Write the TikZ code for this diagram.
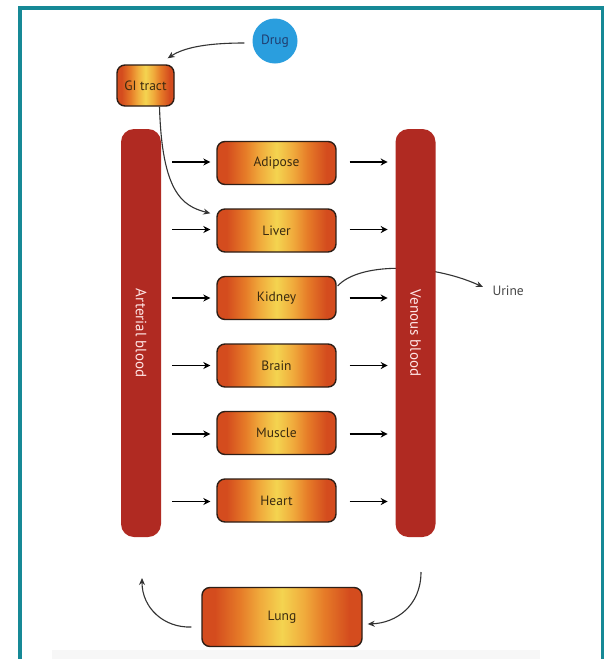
\documentclass[tikz,border=0pt]{standalone}
\usepackage{fontspec}
\setmainfont{PT Sans}
\usetikzlibrary{arrows.meta,calc}
\definecolor{frameteal}{RGB}{22,137,150}
\definecolor{bloodred}{RGB}{176,42,34}
\definecolor{organedge}{RGB}{212,76,30}
\definecolor{organmid}{RGB}{230,124,40}
\definecolor{organwarm}{RGB}{240,170,60}
\definecolor{organcore}{RGB}{244,212,80}
\definecolor{organline}{RGB}{45,30,22}
\definecolor{organtext}{RGB}{58,42,16}
\definecolor{drugblue}{RGB}{42,158,222}
\definecolor{drugtext}{RGB}{32,62,112}
\pgfdeclarehorizontalshading{organband}{100bp}{%
  color(0bp)=(organedge); color(29bp)=(organedge); color(37bp)=(organmid);
  color(43bp)=(organwarm); color(50bp)=(organcore); color(57bp)=(organwarm);
  color(63bp)=(organmid); color(71bp)=(organedge); color(100bp)=(organedge)}
\tikzset{
  organbox/.style={
    draw=organline,
    line width=1.4pt,
    rounded corners=8pt,
    minimum width=119pt,
    minimum height=43pt,
    shading=organband,
    text=organtext,
    font=\fontsize{13.5}{16}\selectfont
  },
  bloodbar/.style={
    fill=bloodred,
    rounded corners=13pt,
    rotate=-90,
    minimum width=408pt,
    minimum height=40pt,
    text=white!90!red,
    font=\fontsize{15}{18}\selectfont
  },
  flowarrow/.style={
    draw=black,
    line width=1.7pt,
    -{Stealth[length=7pt,width=7pt]}
  },
  bendarrow/.style={
    draw=black!80,
    line width=1.1pt,
    -{Stealth[length=7pt,width=6pt]}
  }
}

\begin{document}
\begin{tikzpicture}[x=1pt,y=-1pt]

  % Page area in pixels of the reference, y pointing down.
  \useasboundingbox (0,0) rectangle (609,659);
  \clip (0,0) rectangle (609,659);
  \fill[white] (0,0) rectangle (609,659);
  \fill[black!3] (52,650) rectangle (540,659);

  % Teal frame, open at the lower edge.
  \draw[frameteal,line width=3.5pt] (20,659) -- (20,8) -- (602.5,8) -- (602.5,659);

  % Dose and absorption.
  \node[circle,fill=drugblue,minimum size=45pt,inner sep=0pt,
    text=drugtext,font=\fontsize{13.5}{16}\selectfont] (drug) at (275,41) {Drug};
  \node[organbox,minimum width=57pt,minimum height=41pt] (gi) at (145.5,85.5) {GI tract};

  % Tissue compartments between arterial and venous blood.
  \node[organbox] (adipose) at (276.5,163) {Adipose};
  \node[organbox] (liver)   at (276.5,230.5) {Liver};
  \node[organbox] (kidney)  at (276.5,298) {Kidney};
  \node[organbox] (brain)   at (276.5,365.5) {Brain};
  \node[organbox] (muscle)  at (276.5,433) {Muscle};
  \node[organbox] (heart)   at (276.5,500.5) {Heart};
  \node[organbox,minimum width=160pt,minimum height=59pt] (lung) at (282,617) {Lung};

  \node[text=black!72,font=\fontsize{13.5}{16}\selectfont,anchor=west] (urine) at (489,291) {Urine};

  % Renal excretion passes behind the venous blood bar.
  \draw[bendarrow] ($(kidney.east)+(1,-12)$) .. controls (358,263) and (428,262) .. ($(urine.west)+(-6,-4)$);

  % Blood pools.
  \node[bloodbar] (arterial) at (141,333) {Arterial blood};
  \node[bloodbar] (venous)   at (415.5,333) {Venous blood};

  \draw[bendarrow] ($(drug.west)+(-8,2)$) .. controls +(-32,0) and +(18,-12) .. ($(gi.north east)+(-7,-6)$);
  \draw[bendarrow] ($(gi.south)+(14,0)$) .. controls (162,192) and (182,206) .. ($(liver.north west)+(-6,5)$);

  % Arterial supply to each tissue.
  \draw[flowarrow] ($(adipose.west)+(-44,-1)$) -- ($(adipose.west)+(-6,-1)$);
  \draw[flowarrow] ($(liver.west)+(-44,-1)$) -- ($(liver.west)+(-6,-1)$);
  \draw[flowarrow] ($(kidney.west)+(-44,0)$) -- ($(kidney.west)+(-6,0)$);
  \draw[flowarrow] ($(brain.west)+(-44,0)$) -- ($(brain.west)+(-6,0)$);
  \draw[flowarrow] ($(muscle.west)+(-44,1)$) -- ($(muscle.west)+(-6,1)$);
  \draw[flowarrow] ($(heart.west)+(-44,1)$) -- ($(heart.west)+(-6,1)$);

  % Venous return from each tissue.
  \draw[flowarrow] ($(adipose.east)+(13,-1)$) -- ++(38,0);
  \draw[flowarrow] ($(liver.east)+(13,-1)$) -- ++(38,0);
  \draw[flowarrow] ($(kidney.east)+(13,0)$) -- ++(38,0);
  \draw[flowarrow] ($(brain.east)+(13,0)$) -- ++(38,0);
  \draw[flowarrow] ($(muscle.east)+(13,1)$) -- ++(38,0);
  \draw[flowarrow] ($(heart.east)+(13,1)$) -- ++(38,0);

  % Pulmonary circulation closes the loop.
  \draw[bendarrow] (421,572) .. controls (421,606) and (396,623) .. ($(lung.east)+(5,7)$);
  \draw[bendarrow] ($(lung.west)+(-10,10)$) .. controls (164,628) and (142,608) .. (142,578);

\end{tikzpicture}
\end{document}
